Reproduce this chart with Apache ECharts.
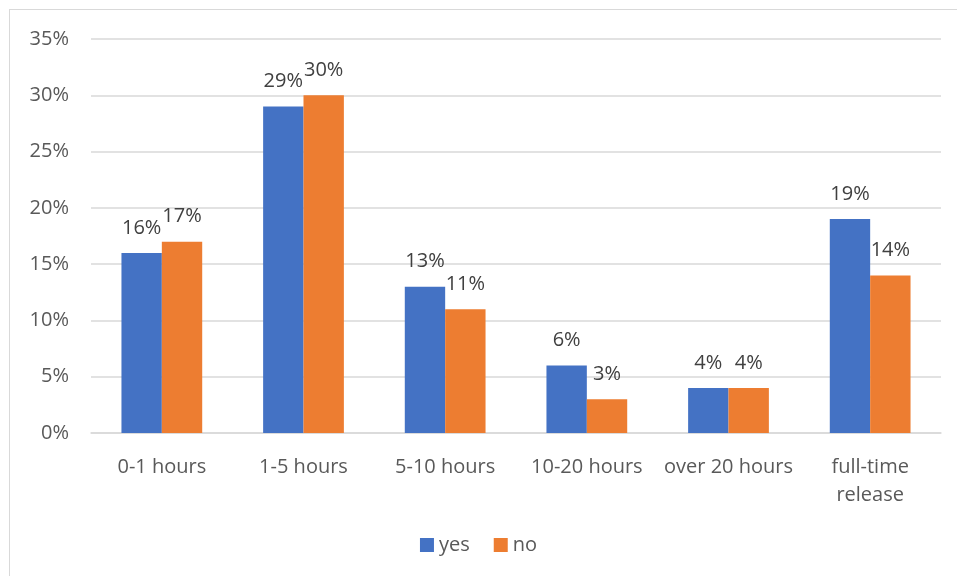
<!DOCTYPE html>
<html><head><meta charset="utf-8">
<script src="https://cdn.jsdelivr.net/npm/echarts@6/dist/echarts.min.js"></script>
<style>
html,body{margin:0;padding:0;background:#fff;}
#frame{position:absolute;left:9px;top:9px;width:960px;height:600px;border:1.5px solid #d9d9d9;box-sizing:border-box;}
#c{position:absolute;left:0;top:0;width:957px;height:576px;}
</style></head>
<body>
<div id="frame"></div>
<div id="c"></div>
<script>
const categories = ['0-1 hours','1-5 hours','5-10 hours','10-20 hours','over 20 hours','full-time\nrelease'];
const yesValues = [16,29,13,6,4,19];
const noValues = [17,30,11,3,4,14];
const yTicks = [0,5,10,15,20,25,30,35];

const chart = echarts.init(document.getElementById('c'));
const font = '"Open Sans", "Liberation Sans", sans-serif';
const lbl = {show:true, position:'top', distance:15, formatter:p=>p.value+'%', color:'#404040', fontSize:20, fontFamily:font};
chart.setOption({
  animation:false,
  grid:{left:91, right:16, top:39, bottom:143},
  legend:{bottom:16, left:'center', itemWidth:14, itemHeight:14, itemGap:24, itemTextGap:4, icon:'rect',
    textStyle:{color:'#595959', fontSize:20, fontFamily:font}, data:['yes','no']},
  xAxis:{type:'category', data:categories,
    axisLine:{lineStyle:{color:'#d9d9d9', width:1.5}}, axisTick:{show:false},
    axisLabel:{color:'#595959', fontSize:20, fontFamily:font, margin:20, lineHeight:28, interval:0}},
  yAxis:{type:'value', min:0, max:35, interval:5,
    axisLabel:{formatter:v=>v+'%', color:'#595959', fontSize:20, fontFamily:font, margin:22},
    splitLine:{lineStyle:{color:'#d9d9d9', width:1.5}}, axisLine:{show:false}, axisTick:{show:false}},
  series:[
    {name:'yes', type:'bar', data:yesValues, barGap:'0%', barCategoryGap:'43%', itemStyle:{color:'#4472c4'}, label:lbl},
    {name:'no', type:'bar', data:noValues, itemStyle:{color:'#ed7d31'}, label:lbl}
  ]
});
</script>
</body></html>
